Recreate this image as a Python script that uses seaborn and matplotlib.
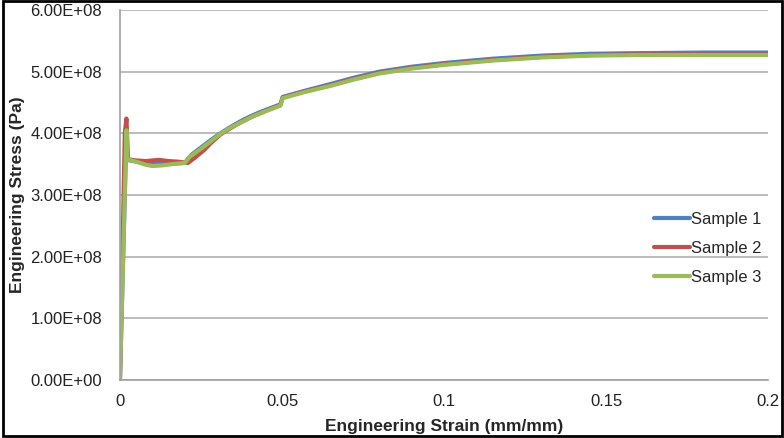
import pandas as pd
import seaborn as sns
from matplotlib import pyplot as plt
from matplotlib.ticker import FuncFormatter, MultipleLocator
from matplotlib.patches import Rectangle

# values (strain in mm/mm, stress in Pa)
strain_1 = [0, 0.0018, 0.003, 0.008, 0.012, 0.016, 0.020, 0.022, 0.025, 0.028, 0.031, 0.034,
            0.037, 0.040, 0.043, 0.0495, 0.0502, 0.057, 0.065, 0.072, 0.080, 0.090, 0.100, 0.115,
            0.130, 0.145, 0.160, 0.180, 0.200]
stress_1 = [0, 3.60e8, 3.56e8, 3.52e8, 3.51e8, 3.51e8, 3.52e8, 3.65e8, 3.77e8, 3.89e8, 4.00e8, 4.10e8,
            4.19e8, 4.27e8, 4.34e8, 4.47e8, 4.59e8, 4.69e8, 4.80e8, 4.90e8, 5.00e8, 5.08e8, 5.14e8, 5.21e8,
            5.26e8, 5.29e8, 5.30e8, 5.31e8, 5.31e8]

strain_2 = [0, 0.0015, 0.0020, 0.0025, 0.005, 0.008, 0.010, 0.012, 0.015, 0.018, 0.021, 0.023,
            0.026, 0.028, 0.031, 0.034, 0.037, 0.040, 0.043, 0.0495, 0.0502, 0.057, 0.065, 0.072,
            0.080, 0.090, 0.100, 0.115, 0.130, 0.145, 0.160, 0.180, 0.200]
stress_2 = [0, 4.00e8, 4.24e8, 3.58e8, 3.56e8, 3.55e8, 3.56e8, 3.57e8, 3.55e8, 3.54e8, 3.52e8, 3.60e8,
            3.73e8, 3.84e8, 3.98e8, 4.08e8, 4.17e8, 4.25e8, 4.32e8, 4.46e8, 4.58e8, 4.68e8, 4.78e8, 4.88e8,
            4.98e8, 5.06e8, 5.12e8, 5.19e8, 5.24e8, 5.27e8, 5.28e8, 5.28e8, 5.28e8]

strain_3 = [0, 0.0020, 0.0023, 0.005, 0.008, 0.010, 0.013, 0.016, 0.020, 0.0215, 0.025, 0.028,
            0.031, 0.034, 0.037, 0.040, 0.043, 0.0495, 0.0502, 0.057, 0.065, 0.072, 0.080, 0.090,
            0.100, 0.115, 0.130, 0.145, 0.160, 0.180, 0.200]
stress_3 = [0, 4.05e8, 3.58e8, 3.54e8, 3.49e8, 3.47e8, 3.48e8, 3.50e8, 3.52e8, 3.62e8, 3.75e8, 3.87e8,
            3.99e8, 4.09e8, 4.17e8, 4.25e8, 4.32e8, 4.45e8, 4.57e8, 4.67e8, 4.77e8, 4.87e8, 4.97e8, 5.05e8,
            5.11e8, 5.18e8, 5.23e8, 5.26e8, 5.27e8, 5.27e8, 5.27e8]

samples = ["Sample 1", "Sample 2", "Sample 3"]
colors = ["#4F81BD", "#C0504D", "#9BBB59"]

frames = []
for name, s, p in zip(samples, [strain_1, strain_2, strain_3], [stress_1, stress_2, stress_3]):
    frames.append(pd.DataFrame({"strain": s, "stress": p, "sample": name}))
df = pd.concat(frames, ignore_index=True)

sns.set_style("white")
plt.rcParams["font.family"] = ["Liberation Sans", "DejaVu Sans"]

fig = plt.figure(figsize=(7.84, 4.38), dpi=100)
ax = fig.add_axes([0.153, 0.1324, 0.827, 0.8448])

sns.lineplot(data=df, x="strain", y="stress", hue="sample", palette=colors,
             estimator=None, sort=False, linewidth=3, ax=ax)

ax.set_xlim(0, 0.2)
ax.set_ylim(0, 6e8)
ax.xaxis.set_major_locator(MultipleLocator(0.05))
ax.yaxis.set_major_locator(MultipleLocator(1e8))
ax.xaxis.set_major_formatter(FuncFormatter(lambda v, _: "0" if v == 0 else f"{v:g}"))
ax.yaxis.set_major_formatter(FuncFormatter(lambda v, _: f"{v:.2E}"))
ax.yaxis.grid(True, color="#B0B0B0", linewidth=1.2)
ax.set_axisbelow(True)
ax.tick_params(length=0, labelsize=12, colors="#222222")
ax.tick_params(axis="y", pad=13)
ax.tick_params(axis="x", pad=10)

for side in ["top", "right"]:
    ax.spines[side].set_visible(False)
for side in ["left", "bottom"]:
    ax.spines[side].set_color("#A0A0A0")
    ax.spines[side].set_linewidth(1.2)

ax.set_xlabel("Engineering Strain (mm/mm)", fontsize=12.5, fontweight="bold", labelpad=7)
ax.set_ylabel("Engineering Stress (Pa)", fontsize=12.5, fontweight="bold", labelpad=4)

leg = ax.legend(loc="center right", bbox_to_anchor=(1.0, 0.355), frameon=False,
                fontsize=12, handlelength=2.2, handletextpad=0.05, labelspacing=0.85,
                borderaxespad=0.0)
for line in leg.get_lines():
    line.set_linewidth(3)

fig.patches.append(Rectangle((0.004, 0.004), 0.994, 0.993, transform=fig.transFigure,
                             fill=False, edgecolor="black", linewidth=2))

fig.savefig("out.png", dpi=100)
